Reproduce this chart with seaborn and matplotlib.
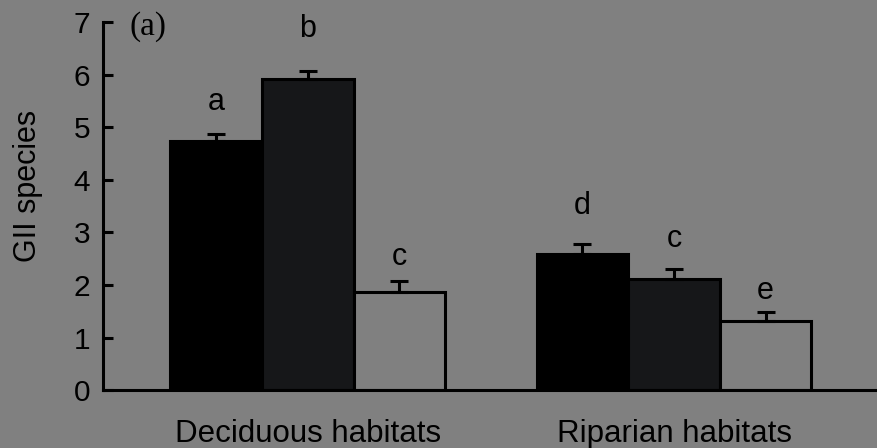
import matplotlib
matplotlib.use("Agg")
import matplotlib.pyplot as plt
import seaborn as sns
import pandas as pd

habitats = ["Deciduous habitats", "Riparian habitats"]
groups = ["g1", "g2", "g3"]
means = [4.73, 5.91, 1.86, 2.59, 2.11, 1.31]
errors = [0.14, 0.15, 0.21, 0.19, 0.19, 0.17]
letters = ["a", "b", "c", "d", "c", "e"]
letter_y = [5.32, 6.71, 2.38, 3.35, 2.72, 1.73]
yticks = [0, 1, 2, 3, 4, 5, 6, 7]

bg = "#808080"
colors = ["#000000", "#161719", bg]

sns.set_theme(style="ticks")
plt.rcParams['font.family'] = ['Liberation Sans', 'DejaVu Sans']
plt.rcParams['text.color'] = 'black'
plt.rcParams['axes.labelcolor'] = 'black'
plt.rcParams['xtick.color'] = 'black'
plt.rcParams['ytick.color'] = 'black'

df = pd.DataFrame({
    "habitat": [h for h in habitats for _ in groups],
    "group": groups * len(habitats),
    "value": means,
})

fig = plt.figure(figsize=(8.78, 4.48), dpi=100, facecolor=bg)
ax = fig.add_axes([0.117, 0.129, 0.883, 0.822])
ax.set_facecolor(bg)

sns.barplot(data=df, x="habitat", y="value", hue="group", order=habitats,
            hue_order=groups, palette=colors, errorbar=None, width=0.75,
            edgecolor="black", linewidth=2.2, saturation=1, legend=False, ax=ax)

patches = [p for p in ax.patches]
order_map = []
for gi, g in enumerate(groups):
    for hi, h in enumerate(habitats):
        order_map.append(hi * len(groups) + gi)
for p, idx in zip(patches, order_map):
    xc = p.get_x() + p.get_width() / 2
    top = p.get_height()
    ax.errorbar([xc], [top], yerr=[[0], [errors[idx]]], fmt="none",
                ecolor="black", elinewidth=2.2, capsize=6.5, capthick=2.2, zorder=1)
    ax.text(xc, letter_y[idx], letters[idx], ha="center", va="baseline",
            fontsize=22, color="black")

ax.set_ylim(0, 7)
ax.set_xlim(-0.56, 1.557)
ax.set_yticks(yticks)
ax.set_yticklabels([str(t) for t in yticks], fontsize=21.5)
ax.tick_params(axis="y", direction="in", length=7, width=2.2, color="black", pad=9)
ax.tick_params(axis="x", length=0, labelsize=22.5, pad=21)
ax.set_xlabel("")
ax.set_ylabel("GII species", fontsize=22)
ax.yaxis.set_label_coords(-0.077, 0.554)
for s in ["top", "right"]:
    ax.spines[s].set_visible(False)
ax.spines["left"].set_linewidth(2.2)
ax.spines["bottom"].set_linewidth(2.2)
ax.spines["left"].set_color("black")
ax.spines["bottom"].set_color("black")

ax.text(-0.486, 6.92, "(a)", fontsize=24, family="Liberation Serif", ha="left", va="center")

fig.savefig("out.png", dpi=100, facecolor=bg)
